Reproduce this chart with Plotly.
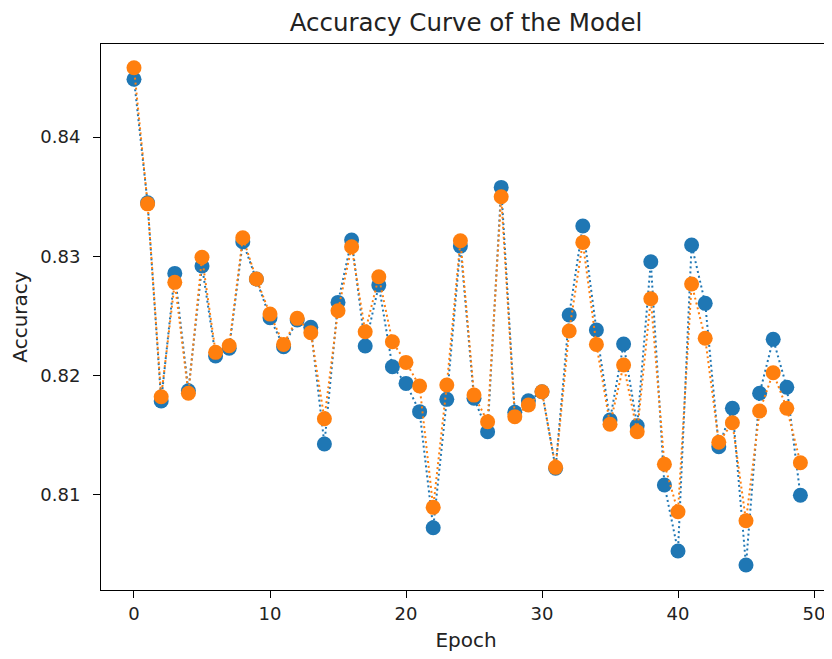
import plotly.graph_objects as go

epochs = list(range(50))
acc_blue = [0.84484, 0.83449, 0.81787, 0.82857, 0.81873, 0.82919, 0.82164, 0.82229, 0.83122, 0.82810,
            0.82485, 0.82242, 0.82466, 0.82405, 0.81427, 0.82614, 0.83137, 0.82248, 0.82759, 0.82075,
            0.81935, 0.81698, 0.80725, 0.81801, 0.83086, 0.81810, 0.81530, 0.83578, 0.81692, 0.81790,
            0.81865, 0.81223, 0.82508, 0.83254, 0.82382, 0.81628, 0.82265, 0.81580, 0.82955, 0.81083,
            0.80530, 0.83095, 0.82606, 0.81404, 0.81726, 0.80412, 0.81852, 0.82304, 0.81902, 0.80997]
acc_orange = [0.84581, 0.83440, 0.81823, 0.82782, 0.81852, 0.82992, 0.82195, 0.82251, 0.83156, 0.82810,
              0.82516, 0.82262, 0.82480, 0.82360, 0.81639, 0.82544, 0.83080, 0.82368, 0.82829, 0.82284,
              0.82111, 0.81913, 0.80896, 0.81921, 0.83131, 0.81837, 0.81614, 0.83500, 0.81656, 0.81754,
              0.81865, 0.81231, 0.82374, 0.83117, 0.82262, 0.81592, 0.82089, 0.81530, 0.82645, 0.81257,
              0.80859, 0.82768, 0.82313, 0.81441, 0.81605, 0.80784, 0.81703, 0.82024, 0.81726, 0.81270]
x_ticks = [0, 10, 20, 30, 40, 50]
y_ticks = [0.81, 0.82, 0.83, 0.84]
y_tick_labels = ["0.81", "0.82", "0.83", "0.84"]

fig = go.Figure()
for ys, col in [(acc_blue, "#1f77b4"), (acc_orange, "#ff7f0e")]:
    fig.add_trace(go.Scatter(
        x=epochs, y=ys, mode="lines+markers",
        line=dict(color=col, width=2, dash="2px,3px"),
        marker=dict(color=col, size=15, line=dict(width=0)),
        showlegend=False,
    ))

axis_common = dict(
    showline=True, linecolor="black", linewidth=1, mirror=True,
    ticks="outside", ticklen=7, tickcolor="black", tickwidth=1,
    showgrid=False, zeroline=False, automargin=False,
    tickfont=dict(size=18, color="#222"),
)
fig.update_xaxes(range=[-2.426, 51.25], tickvals=x_ticks,
                 title=dict(text="Epoch", font=dict(size=20, color="#222"), standoff=10),
                 **axis_common)
fig.update_yaxes(range=[0.80203, 0.84780], tickvals=y_ticks, ticktext=y_tick_labels,
                 ticklabelstandoff=9,
                 title=dict(text="Accuracy", font=dict(size=20, color="#222"), standoff=10),
                 **axis_common)

# the page body adds an 8px margin, so the figure is 8px smaller and its margins 8px less
fig.update_layout(
    width=824, height=651,
    margin=dict(l=93, r=1, t=36, b=69, autoexpand=False),
    paper_bgcolor="white", plot_bgcolor="white",
    font=dict(family="DejaVu Sans"),
    title=dict(text="Accuracy Curve of the Model", x=0.5, xref="paper", xanchor="center",
               y=1 - 14 / 651, yref="container", yanchor="middle",
               font=dict(size=24.5, color="#222"), automargin=False),
)
fig.write_html("out.html")
